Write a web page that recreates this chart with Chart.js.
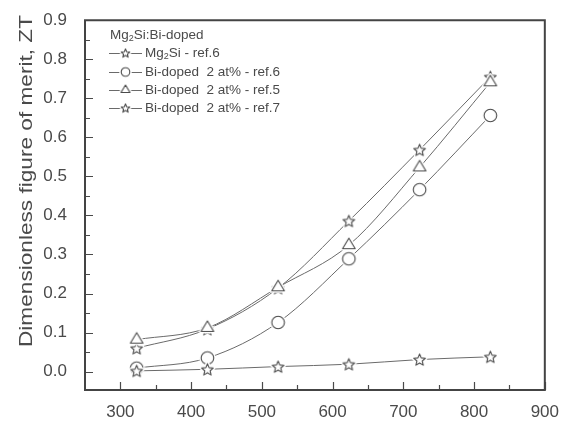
<!DOCTYPE html>
<html>
<head>
<meta charset="utf-8">
<script src="https://cdn.jsdelivr.net/npm/chart.js@4/dist/chart.umd.min.js"></script>
<style>
  html, body { margin: 0; padding: 0; background: #fff; }
  canvas { display: block; }
</style>
</head>
<body>
<canvas id="zt" width="563" height="438"></canvas>
<script>
'use strict';

/* ---- data ---- */
const temps   = [323, 423, 523, 623, 723, 823];
const mg2si   = [0.002, 0.006, 0.013, 0.019, 0.031, 0.038];
const biRef6  = [0.009, 0.035, 0.126, 0.289, 0.466, 0.656];
const biRef5  = [0.082, 0.112, 0.216, 0.324, 0.523, 0.741];
const biRef7  = [0.060, 0.109, 0.214, 0.386, 0.568, 0.755];
const xTicks  = [300, 400, 500, 600, 700, 800, 900];
const yTicks  = [0.0, 0.1, 0.2, 0.3, 0.4, 0.5, 0.6, 0.7, 0.8, 0.9];
const legendTitle = ['Mg', '2', 'Si:Bi-doped'];
const seriesNames = [
  ['Mg', '2', 'Si - ref.6'],
  ['Bi-doped  2 at% - ref.6'],
  ['Bi-doped  2 at% - ref.5'],
  ['Bi-doped  2 at% - ref.7']
];

const INK  = '#4a4a4a';
const LINE = '#6a6a6a';
const FONT = "'Liberation Sans', Arial, sans-serif";

/* ---- marker images (outlined, white filled, with white halo) ---- */
function markerPath(ctx, kind, c, r) {
  ctx.beginPath();
  if (kind === 'star') {
    for (let i = 0; i < 10; i++) {
      const rad = i % 2 === 0 ? r : r * 0.45;
      const ang = -Math.PI / 2 + i * Math.PI / 5;
      const px = c + rad * Math.cos(ang), py = c + r * 0.1 + rad * Math.sin(ang);
      i ? ctx.lineTo(px, py) : ctx.moveTo(px, py);
    }
    ctx.closePath();
  } else if (kind === 'circle') {
    ctx.arc(c, c, r, 0, Math.PI * 2);
  } else {
    const h = r * 1.5;
    ctx.moveTo(c, c - r);
    ctx.lineTo(c + r * 0.9, c + h - r);
    ctx.lineTo(c - r * 0.9, c + h - r);
    ctx.closePath();
  }
}

function makeMarker(kind, r) {
  const size = Math.ceil(r * 2 + 8);
  const cv = document.createElement('canvas');
  cv.width = size; cv.height = size;
  const g = cv.getContext('2d');
  const c = size / 2;
  markerPath(g, kind, c, r);
  g.lineJoin = 'round';
  g.strokeStyle = '#fff';
  g.lineWidth = 4;
  g.stroke();
  g.fillStyle = '#fff';
  g.fill();
  g.strokeStyle = INK;
  g.lineWidth = 1.1;
  markerPath(g, kind, c, r);
  g.stroke();
  return cv;
}

const markers = {
  star:     makeMarker('star', 6.2),
  circle:   makeMarker('circle', 6.3),
  triangle: makeMarker('triangle', 7)
};
const legendMarkers = {
  star:     makeMarker('star', 4.5),
  circle:   makeMarker('circle', 4.3),
  triangle: makeMarker('triangle', 5)
};
const styles = ['star', 'circle', 'triangle', 'star'];

function series(values, style) {
  return {
    data: temps.map((t, i) => ({ x: t, y: values[i] })),
    borderColor: LINE,
    borderWidth: 1,
    pointStyle: markers[style],
    pointRadius: 7,
    cubicInterpolationMode: 'monotone',
    fill: false
  };
}

/* ---- inward ticks, frame, legend, y title ---- */
const decorations = {
  id: 'decorations',
  afterDraw(chart) {
    const ctx = chart.ctx;
    const area = chart.chartArea;
    const xs = chart.scales.x, ys = chart.scales.y;
    const L = area.left, R = area.right, T = area.top, B = area.bottom;
    ctx.save();
    ctx.strokeStyle = INK;
    ctx.lineWidth = 1.2;
    ctx.beginPath();
    for (let v = 300; v <= 900; v += 50) {
      const px = Math.round(xs.getPixelForValue(v)) + 0.5;
      const len = v % 100 === 0 ? 8 : 5;
      ctx.moveTo(px, B); ctx.lineTo(px, B - len);
    }
    for (let k = 0; k <= 18; k++) {
      const py = Math.round(ys.getPixelForValue(k * 0.05)) + 0.5;
      const len = k % 2 === 0 ? 8 : 5;
      ctx.moveTo(L, py); ctx.lineTo(L + len, py);
    }
    ctx.stroke();

    ctx.strokeStyle = '#444';
    ctx.lineWidth = 2;
    ctx.beginPath();
    ctx.rect(L, T, R - L, B - T);
    ctx.stroke();

    // y axis title, rotated and stretched to the reference length
    ctx.fillStyle = INK;
    ctx.font = '18px ' + FONT;
    ctx.textAlign = 'center';
    ctx.textBaseline = 'middle';
    const title = 'Dimensionless figure of merit, ZT';
    const stretch = 332 / ctx.measureText(title).width;
    ctx.translate(27, 181);
    ctx.rotate(-Math.PI / 2);
    ctx.scale(stretch, 1);
    ctx.fillText(title, 0, 0);
    ctx.setTransform(1, 0, 0, 1, 0, 0);

    // legend
    const drawParts = (parts, x0, yc) => {
      let cx = x0;
      ctx.textAlign = 'left';
      ctx.textBaseline = 'middle';
      parts.forEach((p, i) => {
        const sub = parts.length > 1 && i === 1;
        ctx.font = (sub ? '9px ' : '13.5px ') + FONT;
        ctx.fillText(p, cx, sub ? yc + 4 : yc);
        cx += ctx.measureText(p).width;
      });
    };
    drawParts(legendTitle, 110, 35);
    const rows = [53, 72, 90, 108];
    rows.forEach((yc, i) => {
      ctx.strokeStyle = LINE;
      ctx.lineWidth = 1;
      ctx.beginPath();
      ctx.moveTo(109, yc + 0.5); ctx.lineTo(142, yc + 0.5);
      ctx.stroke();
      const m = legendMarkers[styles[i]];
      ctx.drawImage(m, 125.5 - m.width / 2, yc - m.height / 2);
      drawParts(seriesNames[i], 145, yc);
    });
    ctx.restore();
  }
};

Chart.defaults.font.family = FONT;
Chart.defaults.color = INK;

new Chart(document.getElementById('zt'), {
  type: 'line',
  data: {
    datasets: [
      series(mg2si, 'star'),
      series(biRef6, 'circle'),
      series(biRef5, 'triangle'),
      series(biRef7, 'star')
    ]
  },
  options: {
    responsive: false,
    animation: false,
    events: [],
    layout: { padding: { top: 18, right: 13, left: 0, bottom: 0 } },
    plugins: { legend: { display: false }, tooltip: { enabled: false } },
    scales: {
      x: {
        type: 'linear',
        min: 250,
        max: 900,
        afterBuildTicks: s => { s.ticks = xTicks.map(v => ({ value: v })); },
        afterFit: s => { s.height = 48; },
        grid: { display: false },
        border: { display: false },
        ticks: { font: { size: 17 }, padding: 4, maxRotation: 0, autoSkip: false }
      },
      y: {
        type: 'linear',
        min: -0.047,
        max: 0.9,
        afterBuildTicks: s => { s.ticks = yTicks.map(v => ({ value: v })); },
        afterFit: s => { s.width = 85; },
        grid: { display: false },
        border: { display: false },
        ticks: {
          font: { size: 17 },
          padding: 10,
          callback: v => v.toFixed(1)
        }
      }
    }
  },
  plugins: [decorations]
});
</script>
</body>
</html>
